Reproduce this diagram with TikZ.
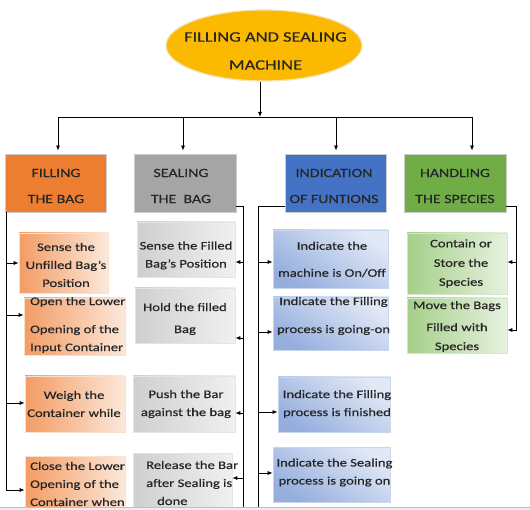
\documentclass[tikz,border=0pt]{standalone}
\usepackage{fontspec}
\setmainfont{Carlito}[FakeStretch=1.27,FakeBold=0.5]
\usetikzlibrary{arrows.meta,shapes.geometric}
\definecolor{orng}{HTML}{ED7D31}
\definecolor{gry}{HTML}{A5A5A5}
\definecolor{blu}{HTML}{4472C4}
\definecolor{grn}{HTML}{70AD47}
\definecolor{gold}{HTML}{FBBA00}
\definecolor{goldedge}{HTML}{F3E3B0}
\definecolor{txtc}{HTML}{262626}
\definecolor{oDark}{HTML}{F39C64}
\definecolor{oLight}{HTML}{FCE8DA}
\definecolor{gDark}{HTML}{CFCFCF}
\definecolor{gLight}{HTML}{F0F0F0}
\definecolor{bDark}{HTML}{95AEDE}
\definecolor{bLight}{HTML}{E2E9F6}
\definecolor{nDark}{HTML}{A5CF89}
\definecolor{nLight}{HTML}{E6F2DE}
\tikzset{
  line/.style={draw=black, line width=0.8pt},
  arr/.style={line, -{Latex[length=5pt,width=4pt]}},
  hdr/.style={rectangle, inner sep=0, minimum height=58pt, draw=white!80!black, line width=0.8pt},
  sub/.style={rectangle, inner sep=0, line width=0.6pt},
  fbox/.style={sub, left color=oDark, right color=oLight, draw=white!75!orng},
  sbox/.style={sub, left color=gDark, right color=gLight, draw=white!70!gry},
  ibox/.style={sub, top color=bLight, bottom color=bDark, shading angle=-35, draw=white!70!blu},
  hbox/.style={sub, left color=nDark, right color=nLight, draw=white!70!grn},
  txt/.style={inner sep=0, align=center, text=txtc, font=\fontsize{11.5}{18}\selectfont},
  ltxt/.style={txt, align=left, anchor=west},
  htxt/.style={inner sep=0, align=center, text=txtc, font=\fontsize{12.5}{26}\selectfont},
  etxt/.style={inner sep=0, align=center, text=txtc, font=\fontsize{14.5}{28}\selectfont}
}
\begin{document}
\begin{tikzpicture}[x=1pt,y=-1pt]
\useasboundingbox (0,0) rectangle (530,510);
\fill[white] (0,0) rectangle (530,510);
\begin{scope}
\clip (0,0) rectangle (530,507.5);
% top ellipse
\node[ellipse, fill=gold, draw=goldedge, line width=1.2pt, minimum width=196pt, minimum height=71pt, inner sep=0] (E) at (264,45.5) {};
\node[etxt] (Et) at (265.5,51) {FILLING AND SEALING\\MACHINE};
% headers
\node[hdr, fill=orng, minimum width=101pt] (FH) at (55.5,183) {};
\node[hdr, fill=gry, minimum width=102pt] (SH) at (185,183) {};
\node[hdr, fill=blu, minimum width=101pt] (IH) at (335.5,183) {};
\node[hdr, fill=grn, minimum width=102pt] (HH) at (455,183) {};
\node[htxt] (FHt) at (56,186) {FILLING\\THE BAG};
\node[htxt] (SHt) at (181,186) {SEALING\\THE\ \ BAG};
\node[htxt] (IHt) at (334,186) {INDICATION\\OF FUNTIONS};
\node[htxt] (HHt) at (455,186) {HANDLING\\THE SPECIES};
% filling boxes
\node[fbox, minimum width=89pt, minimum height=60pt] (F1) at (63.5,263) {};
\node[fbox, minimum width=101pt, minimum height=57pt] (F2) at (74.5,326.5) {};
\node[fbox, minimum width=100pt, minimum height=56pt] (F3) at (75,404) {};
\node[fbox, minimum width=100pt, minimum height=60pt] (F4) at (75,486) {};
\node[txt] (F1t) at (66,265) {Sense the\\Unfilled Bag's\\Position};
\node[ltxt] (F2t) at (30,325) {Open the Lower\\[10pt]Opening of the\\Input Container};
\node[txt] (F3t) at (74,404) {Weigh the\\Container while};
\node[ltxt] (F4t) at (30,484) {Close the Lower\\Opening of the\\Container when};
% sealing boxes
\node[sbox, minimum width=98pt, minimum height=55pt] (S1) at (186,249.5) {};
\node[sbox, minimum width=100pt, minimum height=55pt] (S2) at (185,315.5) {};
\node[sbox, minimum width=102pt, minimum height=56pt] (S3) at (184,404) {};
\node[sbox, minimum width=99pt, minimum height=54pt] (S4) at (182.5,480) {};
\node[txt] (S1t) at (186,255.5) {Sense the Filled\\Bag's Position};
\node[txt] (S2t) at (185,319) {Hold the filled\\[4pt]Bag};
\node[txt] (S3t) at (186,404) {Push the Bar\\against the bag};
\node[ltxt] (S4t) at (146,483) {Release the Bar\\after Sealing is\\\hspace*{11pt}done};
% indication boxes
\node[ibox, minimum width=115pt, minimum height=58pt] (I1) at (330.5,259) {};
\node[ibox, minimum width=115pt, minimum height=53pt] (I2) at (330.5,323.5) {};
\node[ibox, minimum width=112pt, minimum height=55pt] (I3) at (334,404.5) {};
\node[ibox, minimum width=117pt, minimum height=55pt] (I4) at (331.5,474.5) {};
\node[txt] (I1t) at (332,259.5) {Indicate the\\[9pt]machine is On/Off};
\node[txt] (I2t) at (333.5,316) {Indicate the Filling\\[10pt]process is going-on};
\node[txt] (I3t) at (337,404) {Indicate the Filling\\process is finished};
\node[txt] (I4t) at (334.5,472.5) {Indicate the Sealing\\process is going on};
% handling boxes
\node[hbox, minimum width=100pt, minimum height=61pt] (H1) at (457,263.5) {};
\node[hbox, minimum width=100pt, minimum height=55pt] (H2) at (457,325.5) {};
\node[txt] (H1t) at (461,263.5) {Contain or\\[1.5pt]Store the\\[1pt]Species};
\node[txt] (H2t) at (457,326.5) {Move the Bags\\[4pt]Filled with\\[1pt]Species};
% arrow entry points on the boxes
\coordinate (F1a) at (F1.west);
\coordinate (F2a) at ([yshift=11.5pt]F2.west);
\coordinate (F3a) at ([yshift=1pt]F3.west);
\coordinate (F4a) at ([yshift=-4pt]F4.west);
\coordinate (S1a) at ([yshift=-12.5pt]S1.east);
\coordinate (S2a) at ([yshift=-22.5pt]S2.east);
\coordinate (S3a) at ([yshift=-9pt]S3.east);
\coordinate (S4a) at ([yshift=2pt]S4.east);
\coordinate (I1a) at ([yshift=-3pt]I1.west);
\coordinate (I2a) at ([yshift=-8.5pt]I2.west);
\coordinate (I3a) at ([yshift=-7.5pt]I3.west);
\coordinate (I4a) at ([yshift=1.5pt]I4.west);
\coordinate (H1a) at ([yshift=1.5pt]H1.east);
\coordinate (H2a) at ([yshift=-4.5pt]H2.east);
% bus
\coordinate (bus) at (260,117);
\coordinate (busL) at (58,117);
\coordinate (busR) at (472,117);
\coordinate (dS) at (183,117);
\coordinate (dI) at (336,117);
\coordinate (bot) at (0,510);
\draw[arr] (E.south -| bus) -- (bus);
\draw[line] (busL) -- (busR);
\draw[arr, shorten >=3pt] (busL) -- (busL |- FH.north);
\draw[arr, shorten >=3pt] (dS) -- (dS |- SH.north);
\draw[arr, shorten >=3pt] (dI) -- (dI |- IH.north);
\draw[arr, shorten >=3pt] (busR) -- (busR |- HH.north);
% filling bracket
\coordinate (fb) at ([xshift=2pt]FH.south west);
\draw[arr] (fb) |- (F4a);
\draw[arr] (fb |- F1a) -- (F1a);
\draw[arr] (fb |- F2a) -- (F2a);
\draw[arr] (fb |- F3a) -- (F3a);
% sealing bracket
\coordinate (sb) at (243,206);
\draw[line] (SH.east |- sb) -- (sb) -- (sb |- bot);
\draw[arr] (sb |- S1a) -- (S1a);
\draw[arr] (sb |- S2a) -- (S2a);
\draw[arr] (sb |- S3a) -- (S3a);
\draw[arr] (sb |- S4a) -- (S4a);
% indication bracket
\coordinate (ib) at (258,206);
\draw[line] (IH.west |- ib) -- (ib) -- (ib |- bot);
\draw[arr] (ib |- I1a) -- (I1a);
\draw[arr] (ib |- I2a) -- (I2a);
\draw[arr] (ib |- I3a) -- (I3a);
\draw[arr] (ib |- I4a) -- (I4a);
% handling bracket
\coordinate (hb) at (516,206);
\draw[arr] (HH.east |- hb) -- (hb) |- (H2a);
\draw[arr] (hb |- H1a) -- (H1a);
\end{scope}
\fill[black!7] (0,507.5) rectangle (530,510);
\draw[black!25, line width=0.5pt] (0,507.5) -- (530,507.5);
\end{tikzpicture}
\end{document}
